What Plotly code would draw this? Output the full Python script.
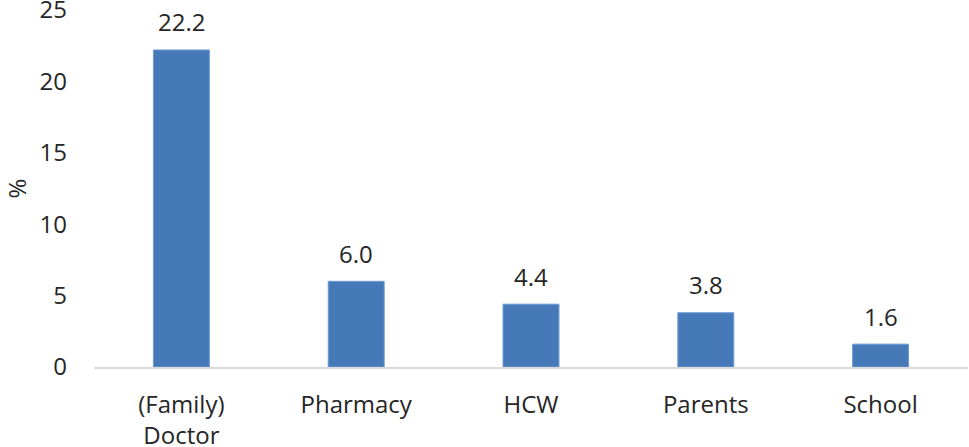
import plotly.graph_objects as go

categories = ["(Family)<br>Doctor", "Pharmacy", "HCW", "Parents", "School"]
values = [22.2, 6.0, 4.4, 3.8, 1.6]
value_labels = ["22.2", "6.0", "4.4", "3.8", "1.6"]
y_ticks = [0, 5, 10, 15, 20, 25]

FONT = "Open Sans"
TXT = "#262626"
FS = 24

fig = go.Figure()
fig.add_trace(go.Bar(
    x=categories, y=values,
    marker=dict(color="#4579b8", line=dict(color="#6f9bd0", width=1)),
    width=0.32,
))
for c, v, t in zip(categories, values, value_labels):
    fig.add_annotation(x=c, y=v, text=t, showarrow=False, yshift=28,
                       font=dict(family=FONT, size=FS, color=TXT))

fig.update_layout(
    width=969, height=447,
    margin=dict(l=94, r=1, t=10, b=80, autoexpand=False),
    paper_bgcolor="white", plot_bgcolor="white",
    showlegend=False,
    font=dict(family=FONT, size=FS, color=TXT),
    xaxis=dict(showline=True, linecolor="#d9d9d9", linewidth=2, ticks="",
               showgrid=False, automargin=False,
               tickfont=dict(family=FONT, size=FS, color=TXT),
               ticklabelstandoff=15),
    yaxis=dict(range=[0, 25], tickvals=y_ticks, showgrid=False, zeroline=False,
               showline=False, ticks="", ticklabelstandoff=26, automargin=False,
               ticklabeloverflow="allow",
               tickfont=dict(family=FONT, size=FS, color=TXT),
               title=dict(text="%", font=dict(family=FONT, size=FS, color=TXT), standoff=29)),
)
fig.write_html("out.html", config={"displayModeBar": False},
               post_script="document.body.style.margin='0';")
